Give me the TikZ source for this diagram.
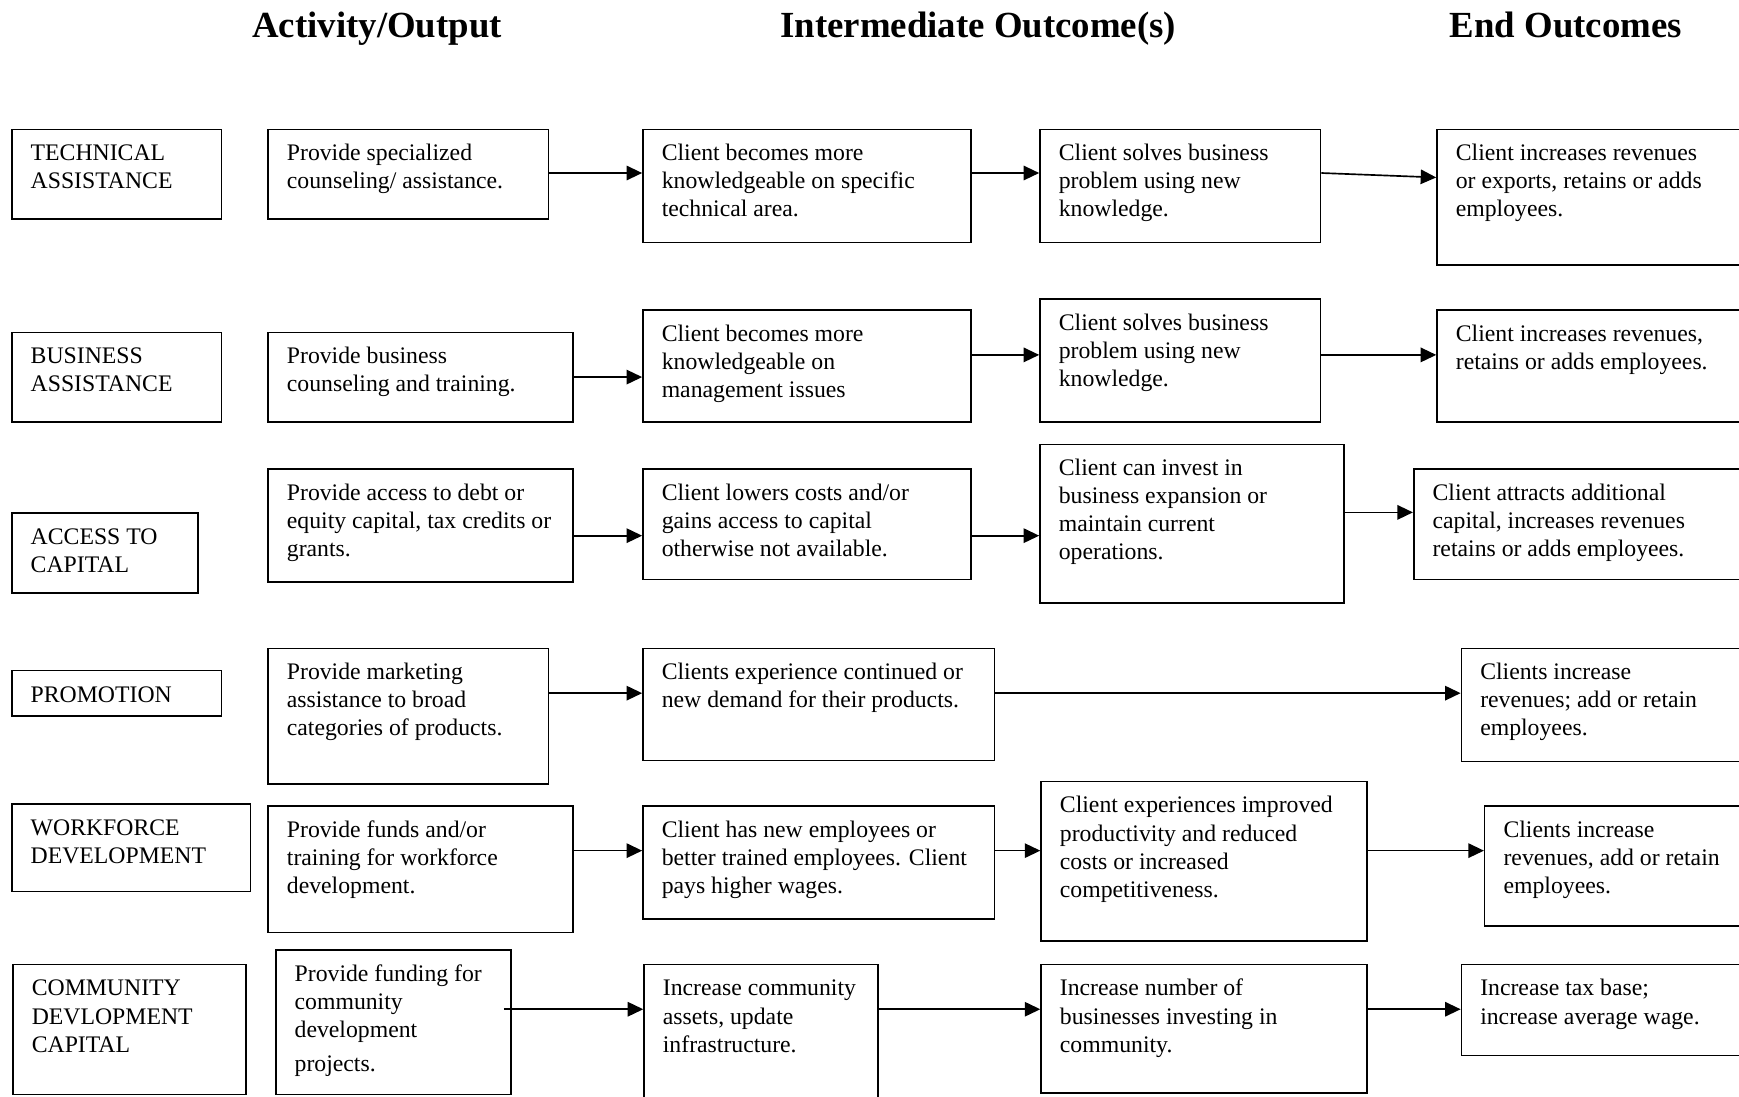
\documentclass[tikz,border=0pt]{standalone}
\usepackage{fontspec}
\setmainfont{Liberation Serif}
\usetikzlibrary{arrows.meta}
\tikzset{
  box/.style={draw, line width=0.7pt, inner sep=0pt, anchor=north west},
  arr/.style={draw, line width=0.75pt, -{Triangle[length=7pt,width=6.5pt]}},
  ttl/.style={font=\fontsize{16.6}{20}\selectfont\bfseries, anchor=base, inner sep=0pt},
}
\newcommand\bx[6]{%
  \node[box] (#1) at (#2,#3) {\parbox[t][\dimexpr(#5pt-#3pt)/2\relax][t]{\dimexpr(#4pt-#2pt)/2\relax}{%
    \fontsize{10.7}{12.65}\selectfont\leftskip=8.5pt\rightskip=0pt plus 1fil
    \vspace*{5.3pt}\strut #6}};}
\begin{document}
\begin{tikzpicture}[x=0.5pt,y=-0.5pt]
\clip (0,0) rectangle (1568,989);
\fill[white] (0,0) rectangle (1568,989);
% titles
\node[ttl] (t1) at (340,34) {Activity/Output};
\node[ttl] (t2) at (882,34) {Intermediate Outcome(s)};
\node[ttl] (t3) at (1412,34) {End Outcomes};
% row 1
\bx{ta}{10}{116}{199}{197}{TECHNICAL\\ASSISTANCE}
\bx{ta1}{241}{116}{494}{197}{Provide specialized\\counseling/ assistance.}
\bx{ta2}{579}{116}{875}{218}{Client becomes more\\knowledgeable on specific\\technical area.}
\bx{ta3}{937}{116}{1190}{218}{Client solves business\\problem using new\\knowledge.}
\bx{ta4}{1295}{116}{1600}{238}{Client increases revenues\\or exports, retains or adds\\employees.}
% row 2
\bx{ba}{10}{299}{199}{380}{BUSINESS\\ASSISTANCE}
\bx{ba1}{241}{299}{516}{380}{Provide business\\counseling and training.}
\bx{ba2}{579}{279}{875}{380}{Client becomes more\\knowledgeable on\\management issues}
\bx{ba3}{937}{269}{1190}{380}{Client solves business\\problem using new\\knowledge.}
\bx{ba4}{1295}{279}{1600}{380}{Client increases revenues,\\retains or adds employees.}
% row 3
\bx{ac}{10}{462}{178}{534}{ACCESS TO\\CAPITAL}
\bx{ac1}{241}{422}{516}{524}{Provide access to debt or\\equity capital, tax credits or\\grants.}
\bx{ac2}{579}{422}{875}{522}{Client lowers costs and/or\\gains access to capital\\otherwise not available.}
\bx{ac3}{937}{400}{1211}{543}{Client can invest in\\business expansion or\\maintain current\\operations.}
\bx{ac4}{1274}{422}{1600}{522}{Client attracts additional\\capital, increases revenues\\retains or adds employees.}
% row 4
\bx{pr}{10}{604}{199}{645}{PROMOTION}
\bx{pr1}{241}{584}{494}{706}{Provide marketing\\assistance to broad\\categories of products.}
\bx{pr2}{579}{584}{896}{685}{Clients experience continued or\\new demand for their products.}
\bx{pr4}{1317}{584}{1600}{686}{Clients increase\\revenues; add or retain\\employees.}
% row 5
\bx{wf}{10}{724}{225}{803}{WORKFORCE\\DEVELOPMENT}
\bx{wf1}{241}{726}{516}{840}{Provide funds and/or\\training for workforce\\development.}
\bx{wf2}{579}{726}{896}{828}{Client has new employees or\\better trained employees. Client\\pays higher wages.}
\bx{wf3}{938}{704}{1232}{848}{Client experiences improved\\productivity and reduced\\costs or increased\\competitiveness.}
\bx{wf4}{1338}{726}{1600}{834}{Clients increase\\revenues, add or retain\\employees.}
% row 6
\bx{cd}{11}{869}{221}{986}{COMMUNITY\\DEVLOPMENT\\CAPITAL}
\bx{cd1}{248}{856}{460}{986}{Provide funding for\\community\\development\\[2.5pt]projects.}
\bx{cd2}{580}{869}{791}{1000}{Increase community\\assets, update\\infrastructure.}
\bx{cd3}{938}{869}{1232}{985}{Increase number of\\businesses investing in\\community.}
\bx{cd4}{1317}{869}{1600}{951}{Increase tax base;\\increase average wage.}
% arrows
\draw[arr] (ta1.east |- 0,156) -- (ta2.west |- 0,156);
\draw[arr] (ta2.east |- 0,156) -- (ta3.west |- 0,156);
\draw[arr] (ta3.east |- 0,156) -- (ta4.west |- 0,160);
\draw[arr] (ba1.east |- 0,340) -- (ba2.west |- 0,340);
\draw[arr] (ba2.east |- 0,320) -- (ba3.west |- 0,320);
\draw[arr] (ba3.east |- 0,320) -- (ba4.west |- 0,320);
\draw[arr] (ac1.east |- 0,483) -- (ac2.west |- 0,483);
\draw[arr] (ac2.east |- 0,483) -- (ac3.west |- 0,483);
\draw[arr] (ac3.east |- 0,462) -- (ac4.west |- 0,462);
\draw[arr] (pr1.east |- 0,625) -- (pr2.west |- 0,625);
\draw[arr] (pr2.east |- 0,625) -- (pr4.west |- 0,625);
\draw[arr] (wf1.east |- 0,767) -- (wf2.west |- 0,767);
\draw[arr] (wf2.east |- 0,767) -- (wf3.west |- 0,767);
\draw[arr] (wf3.east |- 0,767) -- (wf4.west |- 0,767);
\draw[arr] ([xshift=-3.5pt]cd1.east |- 0,910) -- (cd2.west |- 0,910);
\draw[arr] (cd2.east |- 0,910) -- (cd3.west |- 0,910);
\draw[arr] (cd3.east |- 0,910) -- (cd4.west |- 0,910);
\end{tikzpicture}
\end{document}
